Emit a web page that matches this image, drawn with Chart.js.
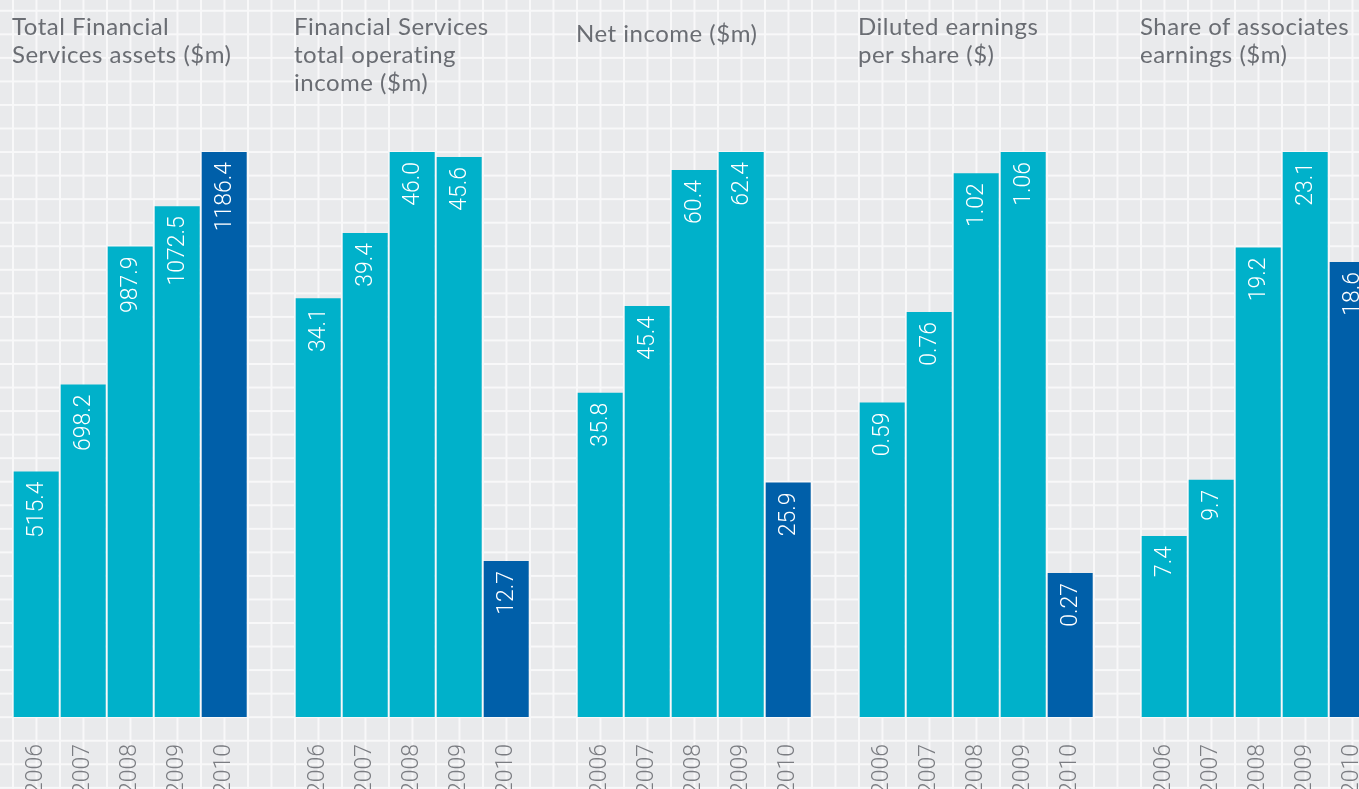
<!DOCTYPE html>
<html lang="en">
<head>
    <meta charset="UTF-8">
    <title>Financial Services summary</title>
    <style>
        html, body {
            margin: 0;
            padding: 0;
            width: 1359px;
            height: 789px;
            overflow: hidden;
        }
        body {
            background-color: #e9eaec;
            background-image:
                linear-gradient(90deg, #f8f8f9 1.5px, transparent 1.5px),
                linear-gradient(180deg, #f8f8f9 1.5px, transparent 1.5px);
            background-size: 23.5px 23.55px;
            background-position: 12px 9.8px;
            font-family: 'Lato', sans-serif;
        }
        #chart-box {
            position: absolute;
            left: 0;
            top: 0;
            width: 1400px;
            height: 789px;
        }
        .panel-title {
            position: absolute;
            color: #6a6d73;
            font-size: 24px;
            letter-spacing: 0.5px;
            line-height: 28px;
            white-space: nowrap;
        }
    </style>
    <script src="https://cdn.jsdelivr.net/npm/chart.js@4.4.1/dist/chart.umd.min.js"></script>
</head>
<body>

<div id="chart-box"><canvas id="summaryChart"></canvas></div>

<div class="panel-title" style="left:12px; top:12px;">Total Financial<br>Services assets ($m)</div>
<div class="panel-title" style="left:294px; top:12px;">Financial Services<br>total operating<br>income ($m)</div>
<div class="panel-title" style="left:576px; top:19px;">Net income ($m)</div>
<div class="panel-title" style="left:858px; top:12px;">Diluted earnings<br>per share ($)</div>
<div class="panel-title" style="left:1140px; top:12px;">Share of associates<br>earnings ($m)</div>

<script>
    const years = ['2006', '2007', '2008', '2009', '2010'];

    const fsAssets = [515.4, 698.2, 987.9, 1072.5, 1186.4];
    const fsOperatingIncome = [34.1, 39.4, 46.0, 45.6, 12.7];
    const netIncome = [35.8, 45.4, 60.4, 62.4, 25.9];
    const dilutedEps = [0.59, 0.76, 1.02, 1.06, 0.27];
    const associatesEarnings = [7.4, 9.7, 19.2, 23.1, 18.6];

    const panels = [fsAssets, fsOperatingIncome, netIncome, dilutedEps, associatesEarnings];
    const decimals = [1, 1, 1, 2, 1];

    const lightBar = '#00b1ca';
    const darkBar = '#005fa9';

    // one slot per year, plus an empty slot between panels
    const labels = [];
    panels.forEach((p, i) => {
        years.forEach(y => labels.push(y));
        if (i < panels.length - 1) labels.push('');
    });

    const datasets = panels.map((values, i) => {
        const data = labels.map(() => null);
        values.forEach((v, j) => { data[i * 6 + j] = v; });
        return {
            data: data,
            yAxisID: 'y' + i,
            grouped: false,
            backgroundColor: data.map((v, k) => (k - i * 6) === 4 ? darkBar : lightBar),
            borderWidth: 0,
            barPercentage: 45 / 47,
            categoryPercentage: 1,
            valueDecimals: decimals[i]
        };
    });

    const scales = {
        x: {
            grid: { display: false },
            border: { display: false },
            ticks: {
                autoSkip: false,
                minRotation: 90,
                maxRotation: 90,
                padding: 19,
                color: '#7b7d82',
                font: { family: 'Roboto', weight: 300, size: 23 }
            },
            afterFit: (scale) => { scale.height = 72; }
        }
    };
    panels.forEach((values, i) => {
        scales['y' + i] = {
            display: false,
            min: 0,
            max: Math.max(...values)
        };
    });

    // white value labels written upwards inside the top of each bar
    const valueLabels = {
        id: 'valueLabels',
        afterDatasetsDraw(chart) {
            const ctx = chart.ctx;
            ctx.save();
            ctx.fillStyle = '#ffffff';
            ctx.font = '300 23px Roboto';
            ctx.textAlign = 'right';
            ctx.textBaseline = 'middle';
            chart.data.datasets.forEach((ds, i) => {
                chart.getDatasetMeta(i).data.forEach((bar, k) => {
                    const v = ds.data[k];
                    if (v === null) return;
                    ctx.save();
                    ctx.translate(bar.x, bar.y + 10);
                    ctx.rotate(-Math.PI / 2);
                    ctx.fillText(v.toFixed(ds.valueDecimals), 0, 1);
                    ctx.restore();
                });
            });
            ctx.restore();
        }
    };

    new Chart(document.getElementById('summaryChart'), {
        type: 'bar',
        data: { labels: labels, datasets: datasets },
        options: {
            responsive: true,
            maintainAspectRatio: false,
            animation: false,
            layout: { padding: { left: 12.7, right: 1400 - 12.7 - 47 * labels.length, top: 152, bottom: 0 } },
            plugins: {
                legend: { display: false },
                tooltip: { enabled: false }
            },
            scales: scales
        },
        plugins: [valueLabels]
    });
</script>

</body>
</html>
